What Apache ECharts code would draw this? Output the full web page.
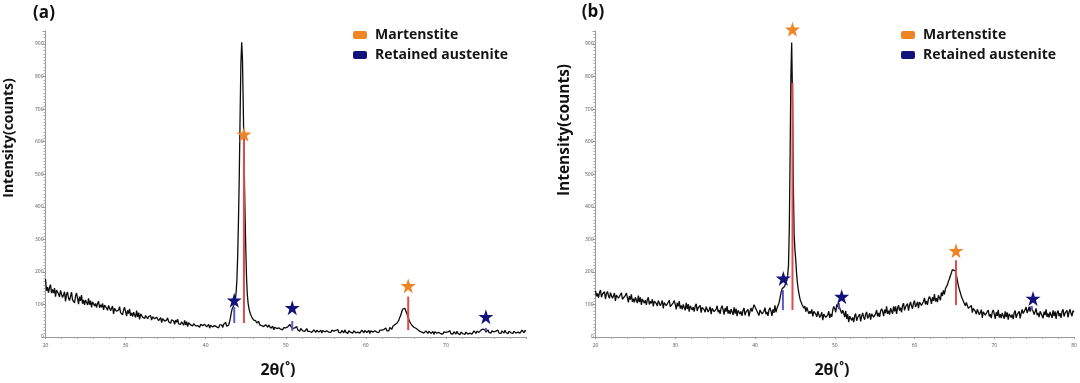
<!DOCTYPE html>
<html><head><meta charset="utf-8">
<script src="https://cdn.jsdelivr.net/npm/echarts@6.0.0/dist/echarts.min.js"></script>
<style>html,body{margin:0;padding:0;background:#fff}#c{width:1080px;height:383px}</style>
</head><body><div id="c"></div><script>
// ---------- data ----------
// panel (a) scan: [2θ, counts]
const scanA = [
[20,178],[20.125,142],[20.25,153],[20.375,136],[20.5,152],[20.625,161],[20.75,135],[20.875,146],
[21,135],[21.125,150],[21.25,124],[21.375,144],[21.5,148],[21.625,132],[21.75,123],[21.875,143],
[22,144],[22.125,121],[22.25,129],[22.375,139],[22.5,109],[22.625,131],[22.75,138],[22.875,119],
[23,112],[23.125,125],[23.25,138],[23.375,114],[23.5,119],[23.625,105],[23.75,126],[23.875,135],
[24,119],[24.125,101],[24.25,124],[24.375,111],[24.5,129],[24.625,102],[24.75,114],[24.875,99],
[25,114],[25.125,109],[25.25,98],[25.375,119],[25.5,99],[25.625,112],[25.75,91],[25.875,108],
[26,110],[26.125,95],[26.25,103],[26.375,90],[26.5,103],[26.625,110],[26.75,90],[26.875,99],
[27,91],[27.125,103],[27.25,83],[27.375,98],[27.5,101],[27.625,89],[27.75,82],[27.875,97],
[28,99],[28.125,81],[28.25,87],[28.375,95],[28.5,71],[28.625,88],[28.75,93],[28.875,79],
[29,73],[29.125,83],[29.25,93],[29.375,75],[29.5,79],[29.625,68],[29.75,84],[29.875,91],
[30,78],[30.125,64],[30.25,82],[30.375,72],[30.5,86],[30.625,65],[30.75,74],[30.875,63],
[31,76],[31.125,71],[31.25,60],[31.375,81],[31.5,62],[31.625,75],[31.75,54],[31.875,71],
[32,71],[32.125,61],[32.25,66],[32.375,57],[32.5,66],[32.625,70],[32.75,56],[32.875,63],
[33,57],[33.125,66],[33.25,52],[33.375,62],[33.5,64],[33.625,56],[33.75,51],[33.875,61],
[34,63],[34.125,50],[34.25,54],[34.375,60],[34.5,44],[34.625,56],[34.75,59],[34.875,49],
[35,45],[35.125,52],[35.25,59],[35.375,47],[35.5,50],[35.625,42],[35.75,53],[35.875,58],
[36,49],[36.125,39],[36.25,52],[36.375,45],[36.5,55],[36.625,40],[36.75,46],[36.875,39],
[37,47],[37.125,44],[37.25,36],[37.375,51],[37.5,37],[37.625,47],[37.75,32],[37.875,44],
[38,45],[38.125,37],[38.25,41],[38.375,34],[38.5,41],[38.625,45],[38.75,34],[38.875,39],
[39,35],[39.125,41],[39.25,30],[39.375,39],[39.5,42],[39.625,35],[39.75,31],[39.875,39],
[40,41],[40.125,31],[40.25,34],[40.375,39],[40.5,27],[40.625,36],[40.75,39],[40.875,31],
[41,30],[41.125,35],[41.25,41],[41.375,31],[41.5,35],[41.625,28],[41.75,37],[41.875,41],
[42,37],[42.125,29],[42.25,39],[42.375,33],[42.5,45],[42.625,33],[42.75,39],[42.875,37],
[43,48],[43.1,60],[43.2,74],[43.3,86],[43.4,92],[43.5,96],[43.6,100],[43.7,112],[43.8,135],[43.9,175],
[44,250],[44.1,360],[44.2,500],[44.3,680],[44.4,840],[44.5,905],[44.6,850],[44.7,700],[44.8,540],[44.9,400],
[45,280],[45.1,185],[45.2,130],[45.3,104],[45.4,88],[45.5,78],[45.6,70],[45.7,64],[45.8,59],[45.9,55],[46,52],
[46.125,47],[46.25,50],[46.375,43],[46.5,46],[46.625,48],[46.75,37],[46.875,39],
[47,35],[47.125,41],[47.25,32],[47.375,38],[47.5,38],[47.625,33],[47.75,30],[47.875,37],
[48,35],[48.125,27],[48.25,30],[48.375,33],[48.5,22],[48.625,30],[48.75,32],[48.875,26],
[49,23],[49.125,28],[49.25,32],[49.375,24],[49.5,26],[49.625,22],[49.75,29],[49.875,32],
[50,28],[50.125,24],[50.25,31],[50.375,31],[50.5,39],[50.625,32],[50.75,34],[50.875,26],
[51,31],[51.125,28],[51.25,24],[51.375,32],[51.5,22],[51.625,28],[51.75,18],[51.875,26],
[52,26],[52.125,19],[52.25,23],[52.375,17],[52.5,23],[52.625,26],[52.75,17],[52.875,21],
[53,17],[53.125,23],[53.25,14],[53.375,20],[53.5,22],[53.625,17],[53.75,14],[53.875,21],
[54,23],[54.125,15],[54.25,18],[54.375,21],[54.5,12],[54.625,20],[54.75,22],[54.875,16],
[55,14],[55.125,19],[55.25,23],[55.375,15],[55.5,18],[55.625,14],[55.75,21],[55.875,24],
[56,18],[56.125,12],[56.25,20],[56.375,16],[56.5,23],[56.625,14],[56.75,18],[56.875,13],
[57,20],[57.125,17],[57.25,13],[57.375,22],[57.5,15],[57.625,21],[57.75,11],[57.875,19],
[58,21],[58.125,14],[58.25,18],[58.375,12],[58.5,19],[58.625,22],[58.75,13],[58.875,17],
[59,15],[59.125,21],[59.25,12],[59.375,18],[59.5,21],[59.625,16],[59.75,13],[59.875,20],
[60,22],[60.125,14],[60.25,17],[60.375,20],[60.5,11],[60.625,19],[60.75,21],[60.875,15],
[61,14],[61.125,19],[61.25,23],[61.375,15],[61.5,18],[61.625,14],[61.75,21],[61.875,24],
[62,21],[62.125,15],[62.25,23],[62.375,19],[62.5,28],[62.625,19],[62.75,23],[62.875,19],
[63,29],[63.125,27],[63.25,24],[63.375,33],[63.5,31],[63.625,38],[63.75,34],[63.875,42],
[64,46],[64.125,52],[64.25,61],[64.375,68],[64.5,79],[64.625,86],[64.75,91],[64.875,88],
[65,80],[65.125,72],[65.25,62],[65.375,54],[65.5,46],[65.625,41],[65.75,36],[65.875,30],
[66,30],[66.125,26],[66.25,27],[66.375,22],[66.5,22],[66.625,25],[66.75,17],[66.875,20],
[67,15],[67.125,21],[67.25,12],[67.375,18],[67.5,19],[67.625,14],[67.75,11],[67.875,18],
[68,19],[68.125,11],[68.25,14],[68.375,17],[68.5,8],[68.625,16],[68.75,18],[68.875,12],
[69,9],[69.125,14],[69.25,18],[69.375,10],[69.5,13],[69.625,9],[69.75,16],[69.875,19],
[70,14],[70.125,8],[70.25,16],[70.375,12],[70.5,19],[70.625,10],[70.75,14],[70.875,9],
[71,16],[71.125,13],[71.25,9],[71.375,18],[71.5,11],[71.625,17],[71.75,7],[71.875,15],
[72,17],[72.125,10],[72.25,14],[72.375,8],[72.5,15],[72.625,18],[72.75,9],[72.875,13],
[73,12],[73.125,18],[73.25,9],[73.375,15],[73.5,19],[73.625,14],[73.75,11],[73.875,18],
[74,22],[74.125,14],[74.25,18],[74.375,21],[74.5,16],[74.625,24],[74.75,28],[74.875,22],
[75,15],[75.125,19],[75.25,22],[75.375,14],[75.5,16],[75.625,12],[75.75,19],[75.875,22],
[76,16],[76.125,10],[76.25,18],[76.375,14],[76.5,21],[76.625,12],[76.75,16],[76.875,11],
[77,19],[77.125,16],[77.25,12],[77.375,21],[77.5,14],[77.625,20],[77.75,10],[77.875,18],
[78,20],[78.125,13],[78.25,17],[78.375,11],[78.5,18],[78.625,21],[78.75,12],[78.875,16],
[79,15],[79.125,21],[79.25,12],[79.375,18],[79.5,21],[79.625,16],[79.75,13],[79.875,20],[80,18]
];
// panel (b) scan: [2θ, counts]
const scanB = [
[20,142],[20.125,125],[20.25,134],[20.375,120],[20.5,137],[20.625,144],[20.75,122],[20.875,132],
[21,126],[21.125,139],[21.25,117],[21.375,133],[21.5,140],[21.625,127],[21.75,119],[21.875,136],
[22,139],[22.125,119],[22.25,126],[22.375,135],[22.5,111],[22.625,129],[22.75,135],[22.875,119],
[23,114],[23.125,125],[23.25,136],[23.375,116],[23.5,122],[23.625,110],[23.75,128],[23.875,135],
[24,121],[24.125,106],[24.25,126],[24.375,115],[24.5,131],[24.625,108],[24.75,118],[24.875,106],
[25,122],[25.125,116],[25.25,104],[25.375,127],[25.5,107],[25.625,122],[25.75,99],[25.875,117],
[26,121],[26.125,104],[26.25,113],[26.375,99],[26.5,115],[26.625,122],[26.75,100],[26.875,110],
[27,103],[27.125,116],[27.25,94],[27.375,110],[27.5,116],[27.625,103],[27.75,95],[27.875,112],
[28,116],[28.125,96],[28.25,103],[28.375,112],[28.5,88],[28.625,106],[28.75,112],[28.875,96],
[29,91],[29.125,102],[29.25,113],[29.375,93],[29.5,99],[29.625,87],[29.75,105],[29.875,112],
[30,100],[30.125,85],[30.25,105],[30.375,94],[30.5,110],[30.625,87],[30.75,97],[30.875,85],
[31,100],[31.125,94],[31.25,82],[31.375,105],[31.5,86],[31.625,101],[31.75,78],[31.875,96],
[32,100],[32.125,83],[32.25,92],[32.375,78],[32.5,95],[32.625,102],[32.75,80],[32.875,90],
[33,84],[33.125,97],[33.25,75],[33.375,91],[33.5,97],[33.625,84],[33.75,76],[33.875,93],
[34,97],[34.125,77],[34.25,84],[34.375,93],[34.5,70],[34.625,88],[34.75,94],[34.875,78],
[35,74],[35.125,85],[35.25,96],[35.375,76],[35.5,83],[35.625,71],[35.75,89],[35.875,96],
[36,84],[36.125,69],[36.25,89],[36.375,78],[36.5,95],[36.625,72],[36.75,82],[36.875,70],
[37,86],[37.125,80],[37.25,68],[37.375,91],[37.5,72],[37.625,87],[37.75,64],[37.875,82],
[38,87],[38.125,70],[38.25,79],[38.375,65],[38.5,82],[38.625,89],[38.75,67],[38.875,77],
[39,72],[39.125,85],[39.25,63],[39.375,79],[39.5,89],[39.625,78],[39.75,78],[39.875,99],
[40,102],[40.125,86],[40.25,87],[40.375,92],[40.5,66],[40.625,83],[40.75,88],[40.875,71],
[41,68],[41.125,79],[41.25,90],[41.375,70],[41.5,77],[41.625,65],[41.75,83],[41.875,90],
[42,80],[42.125,65],[42.25,85],[42.375,74],[42.5,97],[42.625,76],[42.75,88],[42.875,84],
[43,104],[43.1,115],[43.2,128],[43.3,140],[43.4,148],[43.5,152],[43.6,150],[43.7,155],[43.8,162],[43.9,168],
[44,175],[44.1,190],[44.2,220],[44.3,330],[44.4,550],[44.5,800],[44.6,905],[44.7,740],[44.8,480],[44.9,320],
[45,270],[45.1,240],[45.2,200],[45.3,170],[45.4,150],[45.5,135],[45.6,122],[45.7,112],[45.8,106],[45.9,100],[46,96],
[46.125,88],[46.25,95],[46.375,78],[46.5,91],[46.625,96],[46.75,71],[46.875,79],
[47,72],[47.125,85],[47.25,63],[47.375,79],[47.5,83],[47.625,70],[47.75,62],[47.875,79],
[48,80],[48.125,60],[48.25,67],[48.375,76],[48.5,52],[48.625,70],[48.75,76],[48.875,60],
[49,57],[49.125,68],[49.25,79],[49.375,59],[49.5,71],[49.625,62],[49.75,83],[49.875,94],
[50,87],[50.125,76],[50.25,100],[50.375,92],[50.5,104],[50.625,88],[50.75,90],[50.875,72],
[51,82],[51.125,73],[51.25,61],[51.375,80],[51.5,56],[51.625,70],[51.75,46],[51.875,64],
[52,68],[52.125,51],[52.25,60],[52.375,46],[52.5,65],[52.625,72],[52.75,50],[52.875,60],
[53,57],[53.125,70],[53.25,48],[53.375,64],[53.5,74],[53.625,61],[53.75,53],[53.875,70],
[54,77],[54.125,57],[54.25,64],[54.375,73],[54.5,53],[54.625,71],[54.75,77],[54.875,61],
[55,61],[55.125,72],[55.25,83],[55.375,63],[55.5,74],[55.625,62],[55.75,80],[55.875,87],
[56,79],[56.125,64],[56.25,84],[56.375,73],[56.5,94],[56.625,71],[56.75,81],[56.875,69],
[57,89],[57.125,83],[57.25,71],[57.375,94],[57.5,79],[57.625,94],[57.75,71],[57.875,89],
[58,98],[58.125,81],[58.25,90],[58.375,76],[58.5,97],[58.625,104],[58.75,82],[58.875,92],
[59,90],[59.125,103],[59.25,81],[59.375,97],[59.5,108],[59.625,95],[59.75,87],[59.875,104],
[60,112],[60.125,92],[60.25,99],[60.375,108],[60.5,89],[60.625,107],[60.75,113],[60.875,97],
[61,98],[61.125,109],[61.25,120],[61.375,100],[61.5,111],[61.625,99],[61.75,117],[61.875,124],
[62,117],[62.125,102],[62.25,122],[62.375,111],[62.5,132],[62.625,109],[62.75,119],[62.875,107],
[63,128],[63.125,123],[63.25,113],[63.375,137],[63.5,126],[63.625,143],[63.75,131],[63.875,148],
[64,150],[64.125,160],[64.25,171],[64.375,178],[64.5,188],[64.625,197],[64.75,207],[64.875,211],
[65,212],[65.125,203],[65.25,190],[65.375,174],[65.5,158],[65.625,146],[65.75,136],[65.875,125],
[66,129],[66.125,110],[66.25,113],[66.375,96],[66.5,106],[66.625,110],[66.75,88],[66.875,93],
[67,86],[67.125,97],[67.25,75],[67.375,88],[67.5,93],[67.625,79],[67.75,70],[67.875,85],
[68,88],[68.125,68],[68.25,75],[68.375,84],[68.5,59],[68.625,77],[68.75,83],[68.875,67],
[69,61],[69.125,72],[69.25,83],[69.375,63],[69.5,70],[69.625,58],[69.75,76],[69.875,83],
[70,71],[70.125,56],[70.25,76],[70.375,65],[70.5,83],[70.625,60],[70.75,70],[70.875,58],
[71,74],[71.125,68],[71.25,56],[71.375,79],[71.5,61],[71.625,76],[71.75,53],[71.875,71],
[72,77],[72.125,60],[72.25,69],[72.375,55],[72.5,74],[72.625,81],[72.75,59],[72.875,69],
[73,66],[73.125,79],[73.25,57],[73.375,73],[73.5,85],[73.625,72],[73.75,66],[73.875,84],
[74,92],[74.125,74],[74.25,82],[74.375,93],[74.5,78],[74.625,93],[74.75,96],[74.875,78],
[75,69],[75.125,78],[75.25,88],[75.375,67],[75.5,74],[75.625,61],[75.75,79],[75.875,85],
[76,73],[76.125,58],[76.25,78],[76.375,67],[76.5,85],[76.625,62],[76.75,72],[76.875,60],
[77,77],[77.125,71],[77.25,59],[77.375,82],[77.5,64],[77.625,79],[77.75,56],[77.875,74],
[78,81],[78.125,64],[78.25,73],[78.375,59],[78.5,78],[78.625,85],[78.75,63],[78.875,73],
[79,69],[79.125,82],[79.25,60],[79.375,76],[79.5,85],[79.625,72],[79.75,64],[79.875,81],[80,76]
];

// reference sticks and star markers
const martThetaA = [44.78, 65.29];
const martBaseA  = [43, 21];
const martTopA   = [614, 124];
const martStarA  = [623, 157];
const austThetaA = [43.57, 50.81, 74.99];
const austBaseA  = [43, 19, 18];
const austTopA   = [92, 49, 28];
const austStarA  = [113, 90, 62];

const martThetaB = [44.7, 65.2];
const martBaseB  = [83, 98];
const martTopB   = [780, 236];
const martStarB  = [945, 265];
const austThetaB = [43.5, 50.5, 74.7];
const austBaseB  = [83, 85, 82];
const austTopB   = [144, 100, 95];
const austStarThetaB = [43.55, 50.87, 74.86];
const austStarB  = [180, 124, 118];

const legendNames = ['Martenstite', 'Retained austenite'];
const panelTags = ['(a)', '(b)'];
const xTitle = '2θ(˚)';
const yTitle = 'Intensity(counts)';
const xMin = 20, xMax = 80, xStep = 10;
const yMin = 0, yMax = 940, yStep = 100;

// ---------- styling ----------
const ORANGE = '#EE8424', NAVY = '#12127A', RED = '#DE4B4B', BLUE = '#5A5ACC';
const STAR = 'path://M50,0 L61.2,34.5 L97.6,34.5 L68.2,55.9 L79.4,90.5 L50,69.1 L20.6,90.5 L31.8,55.9 L2.4,34.5 L38.8,34.5 Z';
const FONT = '"Open Sans", "Noto Sans", sans-serif';

const chart = echarts.init(document.getElementById('c'), null, {renderer: 'canvas'});

function xAxis(gi, showMax) {
  return {
    type: 'value', gridIndex: gi, min: xMin, max: xMax, interval: xStep,
    axisLine: {show: true, lineStyle: {color: '#9a9a9a', width: 1}},
    axisTick: {show: true, length: 2, lineStyle: {color: '#9a9a9a'}},
    minorTick: {show: true, splitNumber: 5, length: 2, lineStyle: {color: '#aaa'}},
    splitLine: {show: false},
    axisLabel: {fontSize: 5, color: '#555', margin: 6, showMaxLabel: showMax, fontFamily: FONT}
  };
}
function yAxis(gi) {
  return {
    type: 'value', gridIndex: gi, min: yMin, max: yMax, interval: yStep,
    axisLine: {show: true, lineStyle: {color: '#9a9a9a', width: 1}},
    axisTick: {show: true, length: 3, lineStyle: {color: '#9a9a9a'}},
    minorTick: {show: true, splitNumber: 10, length: 2, lineStyle: {color: '#aaa'}},
    splitLine: {show: false},
    axisLabel: {fontSize: 5, color: '#555', margin: 2, showMaxLabel: false, fontFamily: FONT}
  };
}
function sticks(thetas, bases, tops, color, gi) {
  return thetas.map((t, i) => ({
    type: 'line', xAxisIndex: gi, yAxisIndex: gi, silent: true, showSymbol: false,
    data: [[t, bases[i]], [t, tops[i]]],
    lineStyle: {color: color, width: 2}, z: 3, animation: false
  }));
}
function stars(name, thetas, vals, color, gi) {
  return {
    name: name, type: 'scatter', xAxisIndex: gi, yAxisIndex: gi, clip: false,
    symbol: STAR, symbolSize: 15, itemStyle: {color: color, opacity: 1},
    data: thetas.map((t, i) => [t, vals[i]]), z: 5, animation: false
  };
}
function scan(data, gi) {
  return {
    type: 'line', xAxisIndex: gi, yAxisIndex: gi, data: data, showSymbol: false, silent: true,
    lineStyle: {color: '#0c0c0c', width: 1.3}, z: 2, animation: false
  };
}
function legend(left) {
  return {
    orient: 'vertical', left: left, top: 23, itemWidth: 14, itemHeight: 8, itemGap: 6,
    icon: 'roundRect', selectedMode: false,
    data: legendNames,
    itemStyle: {opacity: 1},
    textStyle: {fontSize: 14, fontWeight: 'bold', color: '#151515', fontFamily: FONT, lineHeight: 14, padding: [0, 0, 0, 3]}
  };
}
function txt(x, y, s, size, rot) {
  return {
    type: 'text', x: x, y: y, rotation: rot || 0,
    style: {text: s, x: 0, y: 0, align: 'center', verticalAlign: 'middle',
      fontSize: size, fontWeight: 'bold', fontFamily: FONT, fill: '#111'}
  };
}

const option = {
  backgroundColor: '#fff',
  animation: false,
  grid: [
    {left: 45.5, top: 31, width: 480.5, height: 306},
    {left: 595.5, top: 31, width: 478.5, height: 306}
  ],
  xAxis: [xAxis(0, false), xAxis(1, true)],
  yAxis: [yAxis(0), yAxis(1)],
  legend: [legend(348), legend(896)],
  series: [
    scan(scanA, 0),
    scan(scanB, 1),
    ...sticks(martThetaA, martBaseA, martTopA, RED, 0),
    ...sticks(austThetaA, austBaseA, austTopA, BLUE, 0),
    ...sticks(martThetaB, martBaseB, martTopB, RED, 1),
    ...sticks(austThetaB, austBaseB, austTopB, BLUE, 1),
    stars(legendNames[0], martThetaA, martStarA, ORANGE, 0),
    stars(legendNames[1], austThetaA, austStarA, NAVY, 0),
    stars(legendNames[0], martThetaB, martStarB, ORANGE, 1),
    stars(legendNames[1], austStarThetaB, austStarB, NAVY, 1)
  ],
  graphic: [
    txt(44, 13, panelTags[0], 17),
    txt(593, 12, panelTags[1], 17),
    txt(9, 138, yTitle, 14, Math.PI / 2),
    txt(565, 130, yTitle, 15.5, Math.PI / 2),
    txt(278, 370, xTitle, 16),
    txt(832, 370, xTitle, 16)
  ]
};
chart.setOption(option);
</script></body></html>
